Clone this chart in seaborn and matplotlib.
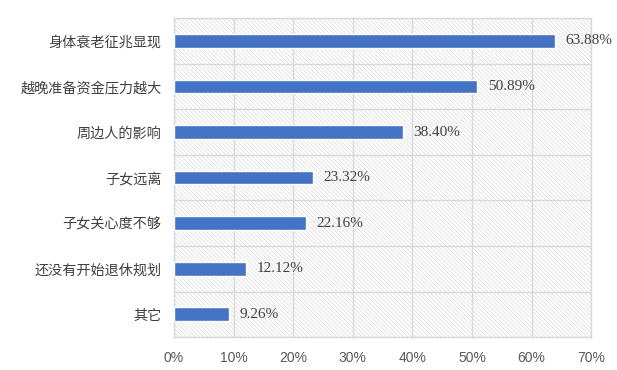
import matplotlib.pyplot as plt
import seaborn as sns
import pandas as pd

sns.set_style('white')
plt.rcParams['font.family'] = ['Noto Sans CJK SC', 'DejaVu Sans']
plt.rcParams['hatch.color'] = '#dadada'
plt.rcParams['hatch.linewidth'] = 0.5

# data
categories = ['身体衰老征兆显现', '越晚准备资金压力越大', '周边人的影响', '子女远离',
              '子女关心度不够', '还没有开始退休规划', '其它']
values = [63.88, 50.89, 38.40, 23.32, 22.16, 12.12, 9.26]
xticks = [0, 10, 20, 30, 40, 50, 60, 70]

df = pd.DataFrame({'reason': categories, 'pct': values})

fig = plt.figure(figsize=(6.17, 3.70), dpi=100)
ax = fig.add_axes([0.282, 0.089, 0.676, 0.862])

# hatched plot background
ax.patch.set_facecolor('white')
ax.patch.set_hatch('\\' * 8)
ax.patch.set_edgecolor('#dadada')
ax.patch.set_linewidth(0)

sns.barplot(data=df, x='pct', y='reason', color='#4472C4', width=0.3,
            saturation=1, ax=ax, zorder=3)

for i, v in enumerate(values):
    ax.text(v + 1.8, i, '{:.2f}%'.format(v), va='center', ha='left',
            fontsize=11, color='#404040', family='Liberation Serif', zorder=4)

ax.set_xlim(0, 70)
ax.set_ylim(len(categories) - 0.5, -0.5)
ax.set_xticks(xticks)
ax.set_xticklabels(['{}%'.format(t) for t in xticks], family='Liberation Sans')
ax.set_yticks(range(len(categories)), minor=False)
ax.set_yticks([i - 0.5 for i in range(len(categories) + 1)], minor=True)

ax.grid(axis='x', color='#d9d9d9', linewidth=1, zorder=1)
ax.grid(axis='y', which='minor', color='#d9d9d9', linewidth=1, zorder=1)
ax.set_axisbelow(True)

for s in ax.spines.values():
    s.set_color('#d9d9d9')
    s.set_linewidth(1)

ax.tick_params(axis='y', which='both', length=0, pad=9, labelsize=10.2, labelcolor='#404040')
ax.tick_params(axis='x', length=0, pad=10, labelsize=10, labelcolor='#595959')
ax.set_xlabel('')
ax.set_ylabel('')

fig.savefig('out.png', dpi=100)
